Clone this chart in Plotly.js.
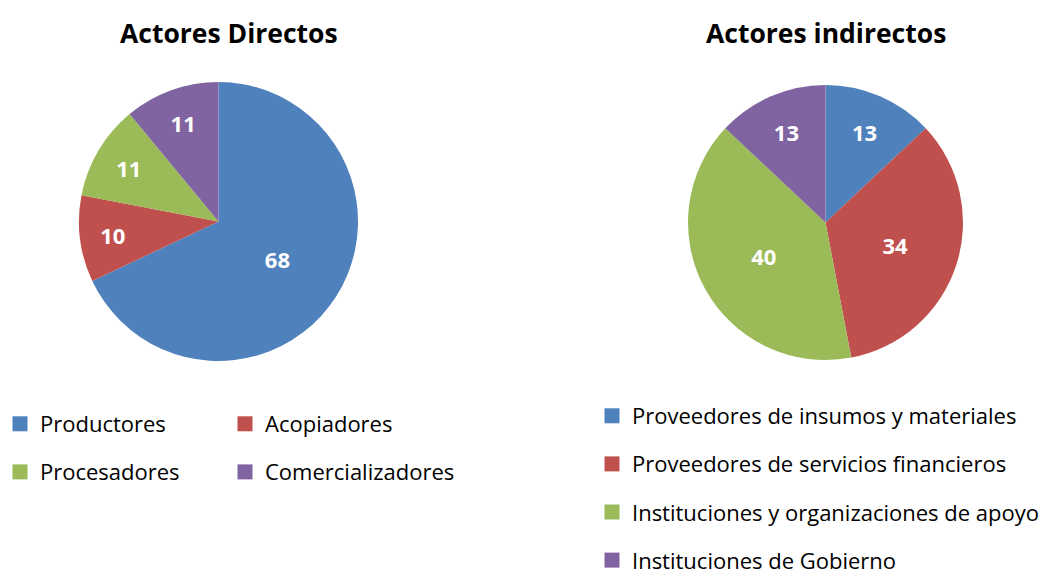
<!DOCTYPE html>
<html><head><meta charset="utf-8">
<script src="https://cdn.plot.ly/plotly-3.0.1.min.js"></script>
<style>html,body{margin:0;padding:0;background:#fff}#chart{width:1060px;height:570px}</style>
</head><body><div id="chart"></div>
<script>
const directCategories = ['Productores', 'Acopiadores', 'Procesadores', 'Comercializadores'];
const directValues = [68, 10, 11, 11];
const indirectCategories = ['Proveedores de insumos y materiales', 'Proveedores de servicios financieros', 'Instituciones y organizaciones de apoyo', 'Instituciones de Gobierno'];
const indirectValues = [13, 34, 40, 13];
const sliceColors = ['#4F81BD', '#C0504D', '#9BBB59', '#8064A2'];
const chartTitles = ['Actores Directos', 'Actores indirectos'];

const FONT = '"Open Sans", Lato, sans-serif';

function pieTrace(labels, values, domain) {
  return {
    type: 'pie', labels: labels, values: values, sort: false, direction: 'clockwise', rotation: 0,
    domain: domain, showlegend: false, automargin: false,
    marker: {colors: sliceColors, line: {width: 0}},
    textinfo: 'value', textposition: 'inside', insidetextorientation: 'horizontal',
    textfont: {family: FONT, size: 22, color: '#ffffff', weight: 'bold'},
    hoverinfo: 'label+value'
  };
}

const traces = [
  pieTrace(directCategories, directValues, {x: [79/1060, 358/1060], y: [1 - 361/570, 1 - 82/570]}),
  pieTrace(indirectCategories, indirectValues, {x: [688/1060, 963/1060], y: [1 - 360/570, 1 - 85/570]})
];

// legend entries (one per category) built from the arrays
const directLegendOf = ['legend', 'legend2', 'legend', 'legend2'];
directCategories.forEach((c, i) => {
  traces.push({type: 'scatter', mode: 'markers', x: [null], y: [null], name: c,
    legend: directLegendOf[i], legendgroup: 'd' + i, hoverinfo: 'skip',
    marker: {symbol: 'square', size: 15, color: sliceColors[i]}});
});
indirectCategories.forEach((c, i) => {
  traces.push({type: 'scatter', mode: 'markers', x: [null], y: [null], name: c,
    legend: 'legend3', legendgroup: 'i' + i, hoverinfo: 'skip',
    marker: {symbol: 'square', size: 15, color: sliceColors[i]}});
});

const legendBase = {xref: 'container', yref: 'container', xanchor: 'left', yanchor: 'top',
  orientation: 'v', tracegroupgap: 16.5, bgcolor: 'rgba(0,0,0,0)', borderwidth: 0,
  font: {family: FONT, size: 22, color: '#000000'}, itemclick: false, itemdoubleclick: false};

const layout = {
  width: 1060, height: 570,
  margin: {l: 0, r: 0, t: 0, b: 0, autoexpand: false},
  paper_bgcolor: '#ffffff', plot_bgcolor: '#ffffff',
  xaxis: {visible: false, showgrid: false, zeroline: false},
  yaxis: {visible: false, showgrid: false, zeroline: false},
  legend: Object.assign({}, legendBase, {x: 0, y: 1 - 403/570}),
  legend2: Object.assign({}, legendBase, {x: 225/1060, y: 1 - 403/570}),
  legend3: Object.assign({}, legendBase, {x: 592/1060, y: 1 - 395/570}),
  annotations: [
    {text: chartTitles[0], xref: 'paper', yref: 'paper', x: 229/1060, y: 1 - 33/570, xanchor: 'center', yanchor: 'middle', showarrow: false,
      font: {family: FONT, size: 26.5, color: '#000000', weight: 'bold'}},
    {text: chartTitles[1], xref: 'paper', yref: 'paper', x: 826/1060, y: 1 - 33/570, xanchor: 'center', yanchor: 'middle', showarrow: false,
      font: {family: FONT, size: 26.5, color: '#000000', weight: 'bold'}}
  ]
};

Plotly.newPlot('chart', traces, layout, {displayModeBar: false, responsive: false});
</script>
</body></html>
